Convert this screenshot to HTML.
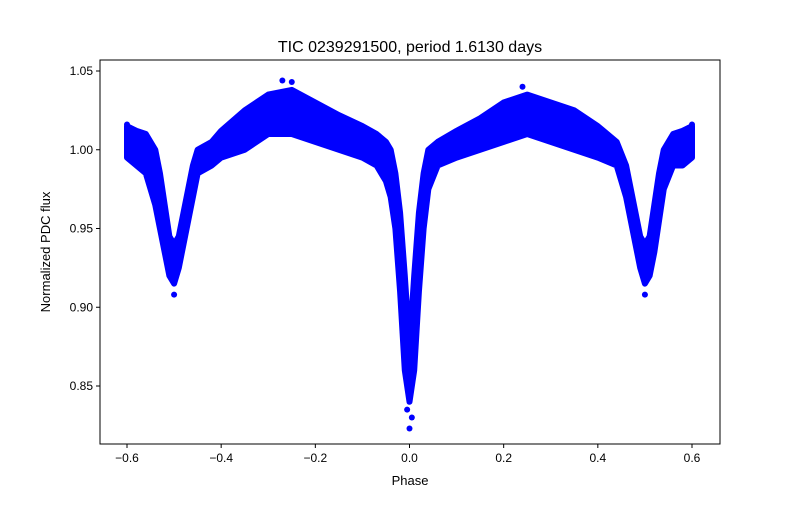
<!DOCTYPE html>
<html><head><meta charset="utf-8"><style>
body{margin:0;background:#fff;font-family:"Liberation Sans",sans-serif}
</style></head><body>
<svg id="chart" width="800" height="500" xmlns="http://www.w3.org/2000/svg" font-family="Liberation Sans, sans-serif"></svg>
<script>
const phases=[-0.6,-0.58,-0.56,-0.54,-0.53,-0.52,-0.51,-0.50,-0.49,-0.48,-0.47,-0.46,-0.45,-0.42,-0.4,-0.35,-0.3,-0.25,-0.2,-0.15,-0.1,-0.07,-0.05,-0.04,-0.03,-0.02,-0.01,0,0.01,0.02,0.03,0.04,0.06,0.1,0.15,0.2,0.25,0.3,0.35,0.4,0.44,0.46,0.47,0.48,0.49,0.5,0.51,0.52,0.53,0.54,0.56,0.58,0.6];
const fluxUpper=[1.015,1.012,1.01,1.0,0.985,0.965,0.945,0.94,0.945,0.96,0.975,0.99,1.0,1.005,1.012,1.025,1.035,1.038,1.03,1.022,1.015,1.01,1.005,1.0,0.985,0.96,0.92,0.875,0.92,0.96,0.985,1.0,1.005,1.012,1.02,1.03,1.035,1.03,1.025,1.015,1.005,0.99,0.975,0.96,0.945,0.94,0.945,0.965,0.985,1.0,1.01,1.012,1.015];
const fluxLower=[0.995,0.99,0.985,0.965,0.95,0.935,0.92,0.915,0.925,0.94,0.955,0.97,0.985,0.99,0.995,1.0,1.01,1.01,1.005,1.0,0.995,0.99,0.98,0.97,0.95,0.91,0.86,0.84,0.86,0.91,0.95,0.975,0.99,0.995,1.0,1.005,1.01,1.005,1.0,0.995,0.99,0.97,0.955,0.94,0.925,0.915,0.92,0.935,0.955,0.975,0.99,0.99,0.995];
const outPhase=[-0.5,0.5,0,0.005,-0.005,-0.27,-0.25,0.24,-0.6,0.6];
const outFlux=[0.908,0.908,0.823,0.83,0.835,1.044,1.043,1.04,1.016,1.016];
const xTicks=[-0.6,-0.4,-0.2,0.0,0.2,0.4,0.6];
const xTickLabels=["−0.6","−0.4","−0.2","0.0","0.2","0.4","0.6"];
const yTicks=[0.85,0.90,0.95,1.00,1.05];
const yTickLabels=["0.85","0.90","0.95","1.00","1.05"];

const svg=document.getElementById('chart');
const NS='http://www.w3.org/2000/svg';
const L=100,R=720,T=60,B=444;
const x=v=>409.5+v*(692-127)/1.2;
const y=v=>149.75-(v-1.0)*(386-71)/0.2;
function mk(tag,attrs,parent){const e=document.createElementNS(NS,tag);for(const k in attrs)e.setAttribute(k,attrs[k]);(parent||svg).appendChild(e);return e;}

// band
let pts=phases.map((p,i)=>x(p)+','+y(fluxUpper[i]));
for(let i=phases.length-1;i>=0;i--)pts.push(x(phases[i])+','+y(fluxLower[i]));
const band=mk('polygon',{points:pts.join(' '),fill:'#0000ff',stroke:'#0000ff','stroke-width':6,'stroke-linejoin':'round'});


outPhase.forEach((p,i)=>{
  const c=mk('circle',{cx:x(p),cy:y(outFlux[i]),r:3,fill:'#0000ff'});
  
  
});

const frame=mk('rect',{x:L,y:T,width:R-L,height:B-T,fill:'none',stroke:'#000','stroke-width':1});



xTicks.forEach((t,i)=>{
  mk('line',{x1:x(t),x2:x(t),y1:B,y2:B+4,stroke:'#000'});
  const tx=mk('text',{x:x(t),y:B+18,'font-size':12,'text-anchor':'middle'});
  tx.textContent=xTickLabels[i];
  
  
});
yTicks.forEach((t,i)=>{
  mk('line',{x1:L-4,x2:L,y1:y(t),y2:y(t),stroke:'#000'});
  const tx=mk('text',{x:L-7,y:y(t)+4,'font-size':12,'text-anchor':'end'});
  tx.textContent=yTickLabels[i];
  
  
});
const xt=mk('text',{x:410,y:485,'font-size':13,'text-anchor':'middle'});xt.textContent='Phase';


const yt=mk('text',{x:50,y:252,'font-size':13,'text-anchor':'middle',transform:'rotate(-90 50 252)'});yt.textContent='Normalized PDC flux';


const ti=mk('text',{x:410,y:52,'font-size':16,'text-anchor':'middle'});ti.textContent='TIC 0239291500, period 1.6130 days';


</script>
</body></html>
